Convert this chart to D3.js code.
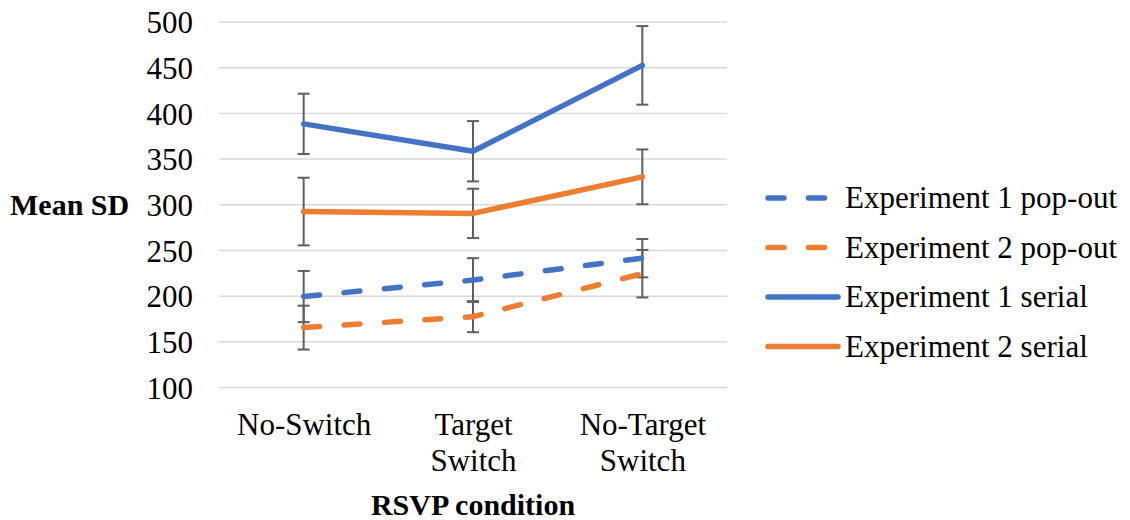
<!DOCTYPE html>
<html>
<head>
<meta charset="utf-8">
<script src="https://cdn.jsdelivr.net/npm/d3@7"></script>
<style>
  body { margin: 0; background: #fff; }
  text { font-family: "Liberation Serif", "Times New Roman", serif; fill: #000; }
</style>
</head>
<body>
<div id="chart"></div>
<script>
// data
const conditions = ["No-Switch", "Target\nSwitch", "No-Target\nSwitch"]
const yTicks = [100, 150, 200, 250, 300, 350, 400, 450, 500]

const exp1Popout = [199, 217, 241]
const exp1PopoutErr = [28, 24, 21]
const exp2Popout = [165, 177, 224]
const exp2PopoutErr = [24, 17, 26]
const exp1Serial = [388, 358, 452]
const exp1SerialErr = [33, 33, 43]
const exp2Serial = [292, 290, 330]
const exp2SerialErr = [37, 27, 30]

const seriesNames = ["Experiment 1 pop-out", "Experiment 2 pop-out", "Experiment 1 serial", "Experiment 2 serial"]

const BLUE = "#4472C4", ORANGE = "#ED7D31"
const series = [
  { name: seriesNames[0], values: exp1Popout, err: exp1PopoutErr, color: BLUE, dashed: true },
  { name: seriesNames[1], values: exp2Popout, err: exp2PopoutErr, color: ORANGE, dashed: true },
  { name: seriesNames[2], values: exp1Serial, err: exp1SerialErr, color: BLUE, dashed: false },
  { name: seriesNames[3], values: exp2Serial, err: exp2SerialErr, color: ORANGE, dashed: false }
]

const W = 1130, H = 520
const PLOT = { LEFT: 219, RIGHT: 727, TOP: 21.5, BOTTOM: 387 }

const svg = d3.select("#chart").append("svg")
  .attr("width", W)
  .attr("height", H)

// Scales
const x = d3.scalePoint()
  .domain(conditions)
  .range([PLOT.LEFT, PLOT.RIGHT])
  .padding(0.5)
const y = d3.scaleLinear()
  .domain([100, 500])
  .range([PLOT.BOTTOM, PLOT.TOP])

// gridlines + y tick labels
const yAxis = d3.axisLeft(y)
  .tickValues(yTicks)
  .tickSize(-(PLOT.RIGHT - PLOT.LEFT))
  .tickPadding(26)
svg.append("g")
  .attr("transform", `translate(${PLOT.LEFT},0)`)
  .call(yAxis)
  .call(g => g.select(".domain").remove())
  .call(g => g.selectAll(".tick line").attr("stroke", "#d9d9d9").attr("stroke-width", 1.5))
  .call(g => g.selectAll(".tick text")
    .attr("font-size", "31px")
    .attr("fill", "#000")
    .attr("dy", "0.36em"))

// x category labels (two lines where needed)
const xAxis = d3.axisBottom(x).tickSize(0).tickFormat("")
const xg = svg.append("g")
  .attr("transform", `translate(0,${PLOT.BOTTOM})`)
  .call(xAxis)
xg.select(".domain").remove()
xg.selectAll(".tick").append("text")
  .attr("text-anchor", "middle")
  .attr("font-size", "31px")
  .selectAll("tspan")
  .data(d => d.split("\n"))
  .join("tspan")
  .attr("x", 0)
  .attr("y", (d, i) => 48 + i * 36)
  .text(d => d)

// axis titles
svg.append("text")
  .attr("x", 10)
  .attr("y", 215)
  .attr("font-size", "30px")
  .attr("font-weight", "bold")
  .text("Mean SD")
svg.append("text")
  .attr("x", (PLOT.LEFT + PLOT.RIGHT) / 2)
  .attr("y", 515)
  .attr("text-anchor", "middle")
  .attr("font-size", "30px")
  .attr("font-weight", "bold")
  .text("RSVP condition")

// error bars
const errG = svg.append("g")
series.forEach(s => {
  const pts = conditions.map((c, i) => ({ c, v: s.values[i], e: s.err[i] }))
  const g = errG.append("g").attr("stroke", "#5f5f5f").attr("stroke-width", 2)
  g.selectAll("line.v").data(pts).join("line")
    .attr("x1", d => x(d.c)).attr("x2", d => x(d.c))
    .attr("y1", d => y(d.v - d.e)).attr("y2", d => y(d.v + d.e))
  g.selectAll("line.t").data(pts).join("line")
    .attr("x1", d => x(d.c) - 6).attr("x2", d => x(d.c) + 6)
    .attr("y1", d => y(d.v + d.e)).attr("y2", d => y(d.v + d.e))
  g.selectAll("line.b").data(pts).join("line")
    .attr("x1", d => x(d.c) - 6).attr("x2", d => x(d.c) + 6)
    .attr("y1", d => y(d.v - d.e)).attr("y2", d => y(d.v - d.e))
})

// lines
const line = d3.line()
  .x((d, i) => x(conditions[i]))
  .y(d => y(d))
series.forEach(s => {
  svg.append("path")
    .datum(s.values)
    .attr("fill", "none")
    .attr("stroke", s.color)
    .attr("stroke-width", 5.5)
    .attr("stroke-linecap", "round")
    .attr("stroke-linejoin", "round")
    .attr("stroke-dasharray", s.dashed ? "16,24.5" : null)
    .attr("d", line)
})

// legend
const legend = svg.append("g")
series.forEach((s, i) => {
  const cy = 198 + i * 49.5
  legend.append("line")
    .attr("x1", 768).attr("x2", 838)
    .attr("y1", cy).attr("y2", cy)
    .attr("stroke", s.color)
    .attr("stroke-width", 5.5)
    .attr("stroke-linecap", "round")
    .attr("stroke-dasharray", s.dashed ? "16,24.5" : null)
  legend.append("text")
    .attr("x", 845)
    .attr("y", cy + 10)
    .attr("font-size", "31px")
    .text(s.name)
})
</script>
</body>
</html>
